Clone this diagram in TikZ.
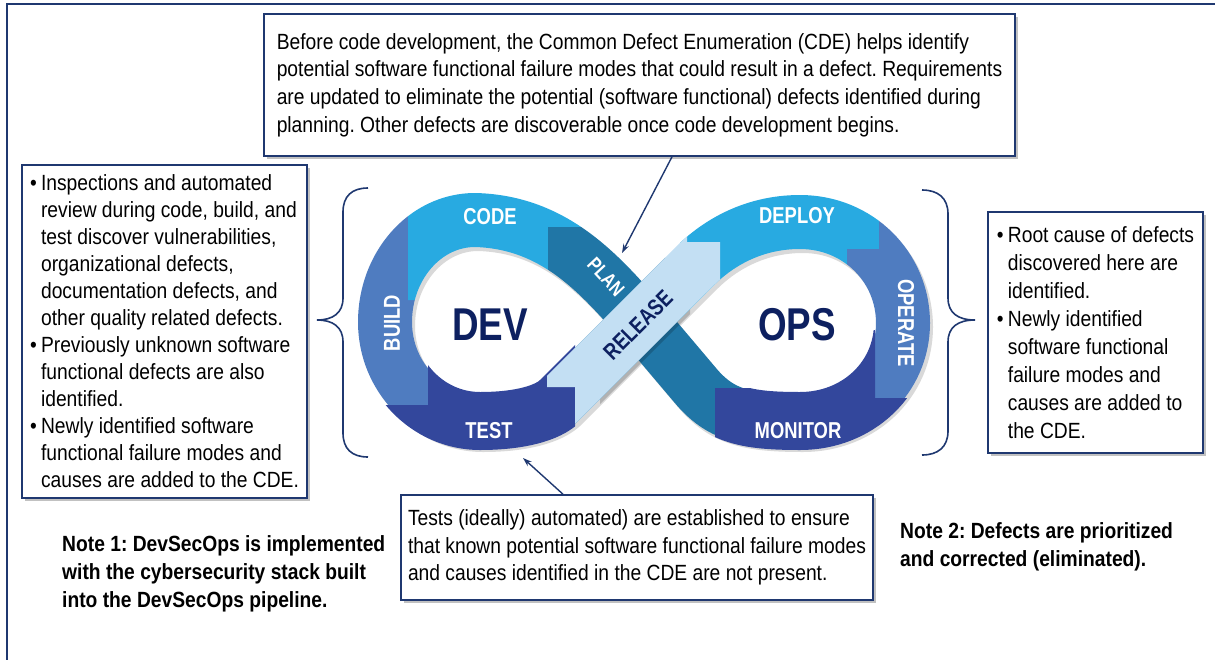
\documentclass[tikz,border=0pt]{standalone}
\usepackage{fontspec}
\setmainfont{Liberation Sans}[FakeStretch=0.875]
\newfontfamily\bandfont{Liberation Sans}[FakeStretch=0.80]
\usetikzlibrary{shadows,arrows.meta}
\frenchspacing

\definecolor{navy}{RGB}{31,56,112}
\definecolor{deepnavy}{RGB}{13,32,96}
\definecolor{codeblue}{RGB}{40,170,225}
\definecolor{buildblue}{RGB}{79,124,192}
\definecolor{testblue}{RGB}{51,71,156}
\definecolor{planblue}{RGB}{32,118,166}
\definecolor{releaseblue}{RGB}{195,223,243}

\newcommand\bulmark{\makebox[11pt][l]{\textbullet}}
\newcommand\bulgap{\hspace*{11pt}}

% centre line of the figure-eight band
\def\eightpath{(480,421) .. controls (520,421) and (548,413) .. (560,401) -- (695,266)
 .. controls (715,246) and (750,222) .. (800,222)
 .. controls (858,222) and (903,267) .. (903,323)
 .. controls (903,378) and (858,421) .. (800,421)
 .. controls (745,421) and (720,415) .. (695,385) -- (640,320)
 .. controls (600,275) and (555,222) .. (475,220)
 .. controls (425,220) and (385,266) .. (385,322)
 .. controls (385,377) and (428,421) .. (480,421) -- cycle}
\def\releasepath{(480,421) .. controls (520,421) and (548,413) .. (560,401) -- (695,266)
 .. controls (715,246) and (750,222) .. (800,222)}

\tikzset{
  textbox/.style={draw=navy, line width=1.6pt, fill=white, align=left, inner sep=0pt,
    drop shadow={shadow xshift=3pt, shadow yshift=-3pt, opacity=0.35, fill=black!70}},
  bodytext/.style={font=\fontsize{22}{27.5}\selectfont},
  notetext/.style={font=\bfseries\fontsize{22}{28}\selectfont, align=left, inner sep=0pt},
  band/.style={line width=54pt, line cap=butt, line join=round},
  wideband/.style={line width=58pt, line cap=butt, line join=round},
  bandlabel/.style={text=white, inner sep=0pt, font=\bandfont\bfseries\fontsize{23}{23}\selectfont},
  bigword/.style={text=deepnavy, inner sep=0pt, font=\bandfont\bfseries\fontsize{46}{46}\selectfont},
  brace/.style={draw=navy, line width=1.6pt},
  pointer/.style={draw=navy, line width=1.4pt, -{Stealth[length=9pt,width=6pt]}},
}

\begin{document}
\begin{tikzpicture}[x=1pt, y=-1pt]
\useasboundingbox (0,0) rectangle (1215,659);

% outer frame
\draw[navy, line width=2pt] (7,4) rectangle (1240,700);

% ---------- figure-eight ----------
\draw[band, black, opacity=0.15, xshift=3pt, yshift=-4pt] \eightpath;

% BUILD
\begin{scope}
  \clip (330,150) -- (408,150) -- (408,300) -- (428,300) -- (428,405) -- (330,405) -- cycle;
  \draw[band, buildblue] \eightpath;
\end{scope}
% CODE
\begin{scope}
  \clip (408,150) -- (620,150) -- (620,227) -- (548,227) -- (548,330) -- (430,330) -- (430,300) -- (408,300) -- cycle;
  \draw[band, codeblue] \eightpath;
\end{scope}
% TEST
\begin{scope}
  \clip (330,405) -- (428,405) -- (428,340) -- (575,340) -- (575,500) -- (330,500) -- cycle;
  \draw[wideband, testblue] \eightpath;
\end{scope}
% PLAN
\begin{scope}
  \clip (548,227) -- (630,227) -- (760,340) -- (760,388) -- (715,388) -- (715,480) -- (575,480) -- (575,340) -- (548,340) -- cycle;
  \draw[band, planblue] \eightpath;
\end{scope}
% DEPLOY
\begin{scope}
  \clip (680,150) -- (879,150) -- (879,249) -- (847,249) -- (847,323) -- (680,323) -- cycle;
  \draw[band, codeblue] \eightpath;
\end{scope}
% OPERATE
\begin{scope}
  \clip (879,150) -- (1000,150) -- (1000,398) -- (875,398) -- (875,330) -- (847,330) -- (847,249) -- (879,249) -- cycle;
  \draw[band, buildblue] \eightpath;
\end{scope}
% MONITOR
\begin{scope}
  \clip (715,388) -- (760,388) -- (760,330) -- (875,330) -- (875,398) -- (1000,398) -- (1000,500) -- (715,500) -- cycle;
  \draw[wideband, testblue] \eightpath;
\end{scope}
% RELEASE, lying over PLAN with a soft shadow
\begin{scope}
  \clip (600,275) -- (690,275) -- (690,480) -- (600,480) -- cycle;
  \draw[band, black, opacity=0.18, xshift=2pt, yshift=-3pt] \releasepath;
\end{scope}
\begin{scope}
  \clip (547,387) -- (547,150) -- (687,150) -- (687,242) -- (720,242) -- (720,500) -- (575,500) -- (575,387) -- cycle;
  \draw[band, releaseblue] \releasepath;
\end{scope}

% labels on the band
\node[bandlabel] (code) at (490,217) {CODE};
\node[bandlabel] (deploy) at (797,216) {DEPLOY};
\node[bandlabel] (test) at (489,431) {TEST};
\node[bandlabel] (monitor) at (798,431) {MONITOR};
\node[bandlabel, rotate=90] (build) at (392,323) {BUILD};
\node[bandlabel, rotate=-90] (operate) at (906,323) {OPERATE};
\node[bandlabel, rotate=-47, font=\bandfont\bfseries\fontsize{20}{20}\selectfont] (plan) at (606,277) {PLAN};
\node[bandlabel, rotate=45, text=deepnavy] (release) at (638,325) {RELEASE};
\node[bigword] (dev) at (490,325) {DEV};
\node[bigword] (ops) at (797,325) {OPS};

% braces
\draw[brace] (368,188) .. controls (352,188) and (343,196) .. (343,212) -- (343,298)
  .. controls (343,313) and (333,320) .. (317,320)
  .. controls (333,320) and (343,327) .. (343,342) -- (343,433)
  .. controls (343,449) and (352,457) .. (368,457);
\draw[brace] (922,190) .. controls (938,190) and (948,198) .. (948,214) -- (948,298)
  .. controls (948,313) and (958,320) .. (975,320)
  .. controls (958,320) and (948,327) .. (948,342) -- (948,431)
  .. controls (948,447) and (938,455) .. (922,455);

% text boxes
\node[textbox, bodytext, font=\fontsize{22}{27.7}\selectfont, minimum width=751pt, minimum height=142pt] (cdebox) at (639.5,85)
 {Before code development, the Common Defect Enumeration (CDE) helps identify\\
  potential software functional failure modes that could result in a defect. Requirements\\
  are updated to eliminate the potential (software functional) defects identified during\\
  planning. Other defects are discoverable once code development begins.};

\node[textbox, bodytext, font=\fontsize{22}{27}\selectfont, minimum width=285pt, minimum height=333pt] (devbox) at (164.5,331.5)
 {\bulmark Inspections and automated\\
  \bulgap review during code, build, and\\
  \bulgap test discover vulnerabilities,\\
  \bulgap organizational defects,\\
  \bulgap documentation defects, and\\
  \bulgap other quality related defects.\\
  \bulmark Previously unknown software\\
  \bulgap functional defects are also\\
  \bulgap identified.\\
  \bulmark Newly identified software\\
  \bulgap functional failure modes and\\
  \bulgap causes are added to the CDE.};

\node[textbox, bodytext, font=\fontsize{22}{28}\selectfont, minimum width=215pt, minimum height=241pt] (opsbox) at (1095.5,332.5)
 {\bulmark Root cause of defects\\
  \bulgap discovered here are\\
  \bulgap identified.\\
  \bulmark Newly identified\\
  \bulgap software functional\\
  \bulgap failure modes and\\
  \bulgap causes are added to\\
  \bulgap the CDE.};

\node[textbox, bodytext, minimum width=472pt, minimum height=105pt] (testbox) at (637,547.5)
 {Tests (ideally) automated) are established to ensure\\
  that known potential software functional failure modes\\
  and causes identified in the CDE are not present.};

% notes
\node[notetext, anchor=north west] (note1) at (62,535)
 {Note 1: DevSecOps is implemented\\
  with the cybersecurity stack built\\
  into the DevSecOps pipeline.};
\node[notetext, anchor=north west] (note2) at (900,522)
 {Note 2: Defects are prioritized\\
  and corrected (eliminated).};

% pointers
\coordinate (planx) at (672,0);
\coordinate (plantip) at (622,253);
\coordinate (testx) at (563,0);
\coordinate (testtip) at (523,458);
\draw[pointer] (cdebox.south -| planx) -- (plantip);
\draw[pointer] (testbox.north -| testx) -- (testtip);
\end{tikzpicture}
\end{document}
